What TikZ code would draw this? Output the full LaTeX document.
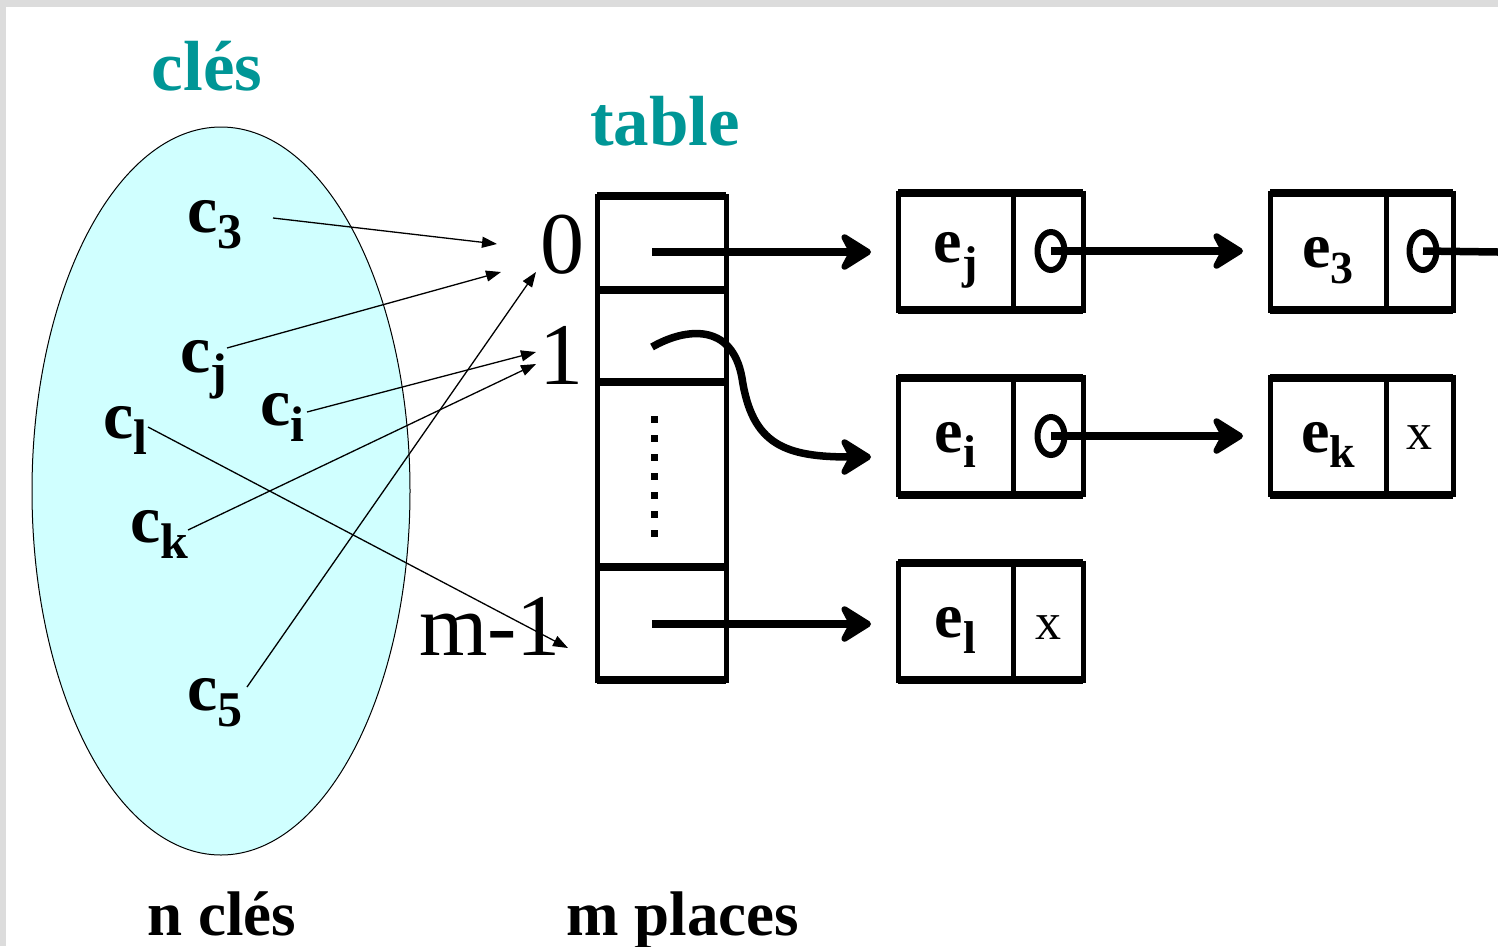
\documentclass[tikz,border=0pt]{standalone}
\usepackage{fontspec}
\setmainfont{Liberation Serif}
\usetikzlibrary{arrows.meta,shapes.geometric}
\definecolor{frame}{RGB}{220,220,220}
\definecolor{keyfill}{RGB}{208,255,255}
\definecolor{titlecol}{RGB}{0,150,150}
\newcommand\fs[1]{\fontsize{#1}{#1}\selectfont}
\newcommand\lowsub[2]{\raisebox{-0.24em}{\fs{#1}#2}}
\newcommand\keytxt[1]{\fs{68}\textbf{c\lowsub{50}{#1}}}
\newcommand\elttxt[1]{\fs{64}\textbf{e\lowsub{46}{#1}}}
\tikzset{
  cell/.style={draw, line width=5pt, rectangle, inner sep=0pt, outer sep=0pt},
  hedge/.style={line width=8pt},
  big tip/.style={-{Stealth[length=37pt, width=46pt, inset=12pt, round]}, shorten >=27pt},
  thick arrow/.style={line width=7.5pt, big tip},
  thin arrow/.style={line width=1.3pt, -{Triangle[length=15pt, width=11pt]}},
  ptr/.style={draw, line width=6pt, ellipse, inner sep=0pt, minimum width=27pt, minimum height=38pt},
  title/.style={text=titlecol, font=\fs{71}\bfseries},
  caption/.style={font=\fs{63}\bfseries},
  index/.style={font=\fs{88}},
  nil/.style={font=\fs{52}},
}
\begin{document}
\begin{tikzpicture}[x=1pt, y=-1pt]
\useasboundingbox (0,0) rectangle (1498,946);
\fill[frame] (0,0) rectangle (1498,946);
\fill[white] (6,7) rectangle (1498,946);

% set of keys
\draw[fill=keyfill, line width=1pt] (221,491) ellipse [x radius=189, y radius=364];
\node[title, anchor=base] (tkeys) at (207,90) {clés};
\node[title, anchor=base] (ttable) at (665,145) {table};
\node[caption, anchor=base] (ncles) at (222,935) {n clés};
\node[caption, anchor=base] (mplaces) at (683,935) {m places};

\node[anchor=base west, inner sep=0pt] (c3) at (187,232) {\keytxt{3}};
\node[anchor=base west, inner sep=0pt] (cj) at (180,372) {\keytxt{j}};
\node[anchor=base west, inner sep=0pt] (ci) at (260,425) {\keytxt{i}};
\node[anchor=base west, inner sep=0pt] (cl) at (103,438) {\keytxt{l}};
\node[anchor=base west, inner sep=0pt] (ck) at (130,542) {\keytxt{k}};
\node[anchor=base west, inner sep=0pt] (c5) at (187,710) {\keytxt{5}};

% indices
\node[index] (i0) at (562,245) {0};
\node[index] (i1) at (561,355) {1};
\node[index] (im) at (490,626) {m-1};

% table cells
\node[cell, minimum width=129pt, minimum height=94pt] (t0) at (661.5,243) {};
\node[cell, minimum width=129pt, minimum height=92pt] (t1) at (661.5,336) {};
\node[cell, minimum width=129pt, minimum height=185pt] (td) at (661.5,474.5) {};
\node[cell, minimum width=129pt, minimum height=113pt] (tm) at (661.5,623.5) {};
\foreach \n in {t0,t1,td,tm} {
  \draw[hedge] (\n.north west) -- (\n.north east);
}
\draw[hedge] (tm.south west) -- (tm.south east);
\draw[line width=7pt, dash pattern=on 7pt off 12pt] (654,416) -- (654,540);

% list elements: value cell, pointer cell, label
\newcommand\elt[6]{%
  \node[cell, minimum width=#4pt, minimum height=117pt] (#1v) at (#2,#3) {};
  \node[cell, minimum width=#5pt, minimum height=117pt, anchor=west] (#1p) at (#1v.east) {};
  \draw[hedge] (#1v.north west) -- (#1p.north east);
  \draw[hedge] (#1v.south west) -- (#1p.south east);
  \node[yshift=-9pt] (#1t) at (#1v.center) {#6};
}
\elt{ej}{955.5}{251.5}{115}{70}{\elttxt{j}}
\elt{ethree}{1328}{251.5}{116}{67}{\elttxt{3}}
\elt{ei}{955.5}{436}{115}{70}{\elttxt{i}}
\elt{ek}{1328}{436}{116}{67}{\elttxt{k}}
\elt{el}{955.5}{621.5}{115}{70}{\elttxt{l}}
\node[nil, yshift=-2pt] (xk) at (ekp) {x};
\node[nil, yshift=-6pt] (xl) at (elp) {x};

\node[ptr] (pj) at (1051,251) {};
\node[ptr] (pthree) at (1423,251) {};
\node[ptr] (pi) at (1051,436) {};
\coordinate (out) at (1498,252);

% chains
\draw[thick arrow] (pj.center) -- (ethreev.west |- pj.center);
\draw[line width=7.5pt] (pthree.center) -- (out);
\draw[thick arrow] (pi.center) -- (ekv.west |- pi.center);

% table to lists
\coordinate (s0) at (652,252);
\coordinate (s1) at (652,347);
\coordinate (sm) at (652,624);
\draw[thick arrow] (s0) -- (ejv.west |- s0);
\draw[thick arrow] (sm) -- (elv.west |- sm);
\draw[line width=7.5pt, big tip]
  (s1) .. controls (685,328) and (732,322) .. (742,378)
  .. controls (752,445) and (785,457) .. (ejv.west |- 0,457);

% hashing of keys
\coordinate (a3) at (273,218);
\coordinate (aj) at (227,348);
\coordinate (ai) at (307,412);
\coordinate (al) at (148,427);
\coordinate (ak) at (188,530);
\coordinate (a5) at (247,687);
\coordinate (h0a) at (497,244);
\coordinate (h0b) at (501,272);
\coordinate (h0c) at (536,272);
\coordinate (h1a) at (536,352);
\coordinate (h1b) at (536,364);
\coordinate (hm) at (568,648);
\draw[thin arrow] (a3) -- (h0a);
\draw[thin arrow] (aj) -- (h0b);
\draw[thin arrow] (a5) -- (h0c);
\draw[thin arrow] (ai) -- (h1a);
\draw[thin arrow] (ak) -- (h1b);
\draw[thin arrow] (al) -- (hm);
\end{tikzpicture}
\end{document}
